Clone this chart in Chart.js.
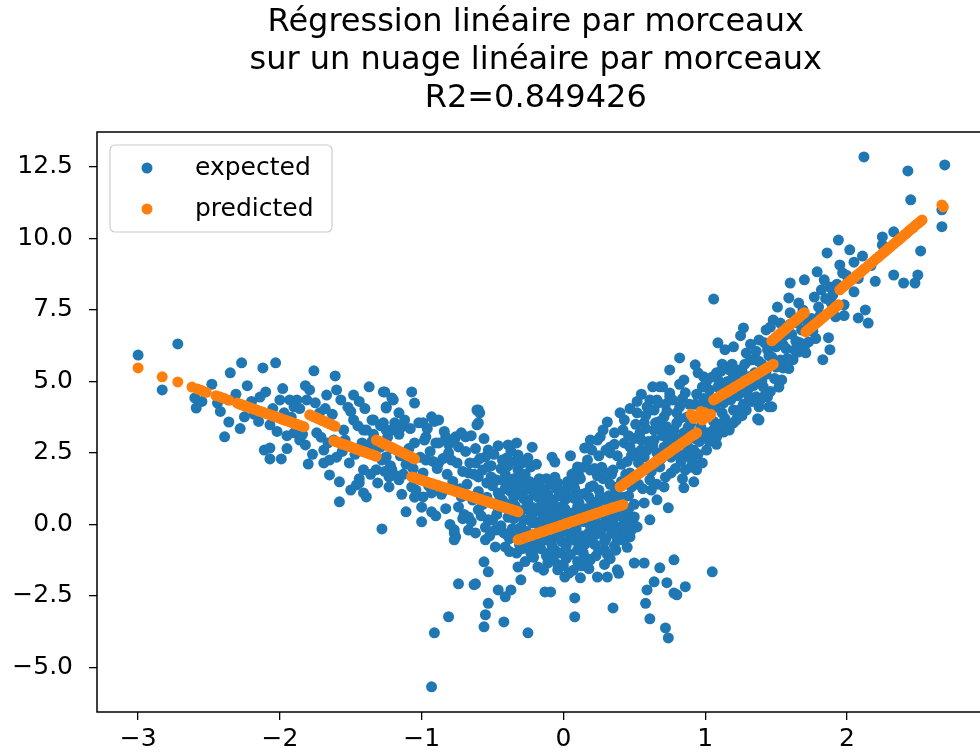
<!DOCTYPE html>
<html>
<head>
<meta charset="utf-8">
<script src="https://cdn.jsdelivr.net/npm/chart.js@4.4.1/dist/chart.umd.min.js"></script>
<style>
  html, body { margin: 0; padding: 0; background: #fff; overflow: hidden; }
  canvas { display: block; }
</style>
</head>
<body>
<canvas id="chart" width="980" height="754"></canvas>
<script>
// titre et légende
const titleLines = ["Régression linéaire par morceaux", "sur un nuage linéaire par morceaux", "R2=0.849426"];
const seriesNames = ["expected", "predicted"];
const xTicks = [-3, -2, -1, 0, 1, 2];
const yTicks = [-5, -2.5, 0, 2.5, 5, 7.5, 10, 12.5];

const expectedPoints = [
  [-3.00,5.92],[-2.72,6.31],[-2.83,4.70],[-2.60,4.42],[-2.59,4.07],[-2.44,4.24],[-2.36,3.58],[-2.39,3.06],
  [-2.35,5.30],[-2.27,5.65],[-2.25,3.76],[-2.12,5.47],[-2.03,5.65],[-2.10,4.63],[-2.07,3.48],[-2.11,2.60],
  [-2.07,2.67],[-2.07,2.29],[-1.99,2.29],[-2.00,4.35],[-1.93,4.35],[-1.88,4.35],[-1.90,4.11],[-1.97,3.90],
  [-1.76,5.37],[-1.61,5.19],[-1.79,4.70],[-1.81,4.35],[-1.67,4.52],[-1.60,4.70],[-1.48,4.52],[-1.37,4.81],
  [-1.27,4.63],[-1.90,3.20],[-1.86,2.95],[-1.82,2.78],[-1.80,2.11],[-1.69,2.60],[-1.69,2.15],[-1.65,1.73],
  [-1.58,1.49],[-1.58,0.79],[-1.46,1.38],[-1.41,1.10],[-1.65,2.25],[-1.74,3.20],[-1.48,3.65],[-1.41,3.30],
  [-1.34,3.65],[-1.25,3.30],[-1.51,2.15],[-1.41,1.91],[-1.32,1.91],[-1.25,2.36],[-1.23,1.66],[-1.25,4.11],
  [-1.20,4.35],[-1.23,1.31],[-2.20,4.30],[-2.15,3.60],[-1.95,3.10],[-1.72,3.90],[-1.55,3.30],[-1.52,4.10],
  [-1.44,4.30],[-1.62,2.95],[-1.56,2.55],[-1.35,2.90],[-1.29,2.70],[-1.44,1.60],[-1.50,1.20],
  [-2.55,4.30],[-2.48,4.90],[-2.42,3.95],[-2.31,4.55],[-2.28,3.35],[-2.23,4.85],[-2.18,3.85],[-2.14,4.45],
  [-2.05,4.05],[-2.02,3.25],[-1.98,4.75],[-1.95,2.65],[-1.92,3.75],[-1.86,4.05],[-1.84,3.15],[-1.82,4.85],
  [-1.77,2.45],[-1.75,4.25],[-1.71,3.05],[-1.68,4.05],[-1.66,2.85],[-1.63,3.85],[-1.60,2.35],[-1.57,4.35],
  [-1.54,2.95],[-1.50,3.95],[-1.47,2.45],[-1.45,3.45],[-1.42,2.85],[-1.40,4.05],
  [-1.26,4.63],[-1.21,4.42],[-1.25,4.07],[-1.16,3.90],[-1.07,4.63],[-1.05,4.24],[-1.35,3.65],[-1.27,3.55],
  [-1.21,3.30],[-1.14,3.41],[-1.39,3.30],[-0.99,3.55],[-0.93,3.76],[-0.88,3.65],[-0.97,3.06],[-0.90,2.85],
  [-0.83,3.06],[-0.76,3.06],[-0.69,3.06],[-0.74,2.71],[-0.81,2.50],[-0.88,2.15],[-0.97,2.25],[-0.61,4.00],
  [-0.59,3.90],[-0.61,3.48],[-0.55,2.36],[-0.53,2.01],[-0.62,2.15],[-0.67,1.80],[-0.60,1.66],[-0.51,1.66],
  [-0.39,2.78],[-0.33,2.85],[-0.40,2.32],[-0.32,2.43],[-0.25,2.32],[-0.23,2.01],[-0.32,1.91],[-0.06,2.18],
  [-0.41,1.45],[-0.34,1.31],[-0.46,1.10],[-0.27,1.21],[-0.18,1.21],[-0.04,1.45],[0.03,1.31],[-0.13,0.86],
  [0.01,0.86],[-1.21,1.91],[-1.16,1.56],[-1.07,1.31],[-0.99,0.96],[-0.93,1.10],[-1.11,0.44],[-1.00,0.09],
  [-0.93,0.44],[-1.28,-0.16],[-0.79,1.31],[-0.72,0.96],[-0.74,0.61],[-0.77,-0.19],[-0.76,-0.44],[-0.67,0.26],
  [-0.60,0.51],[-0.53,0.16],[-0.55,-0.54],[-0.46,-0.19],[-0.13,0.26],[-0.04,-0.19],[0.05,-0.44],[-1.39,0.96],
  [-1.44,1.45],[-0.60,3.55],
  [-1.38,2.75],[-1.36,1.75],[-1.34,3.15],[-1.33,2.55],[-1.31,1.45],[-1.29,3.45],[-1.28,2.25],[-1.26,1.85],
  [-1.24,3.05],[-1.22,2.05],[-1.21,2.65],[-1.19,3.55],[-1.18,1.70],[-1.16,3.15],[-1.15,2.40],[-1.13,1.75],
  [-1.12,3.65],[-1.11,2.10],[-1.09,2.65],[-1.08,3.35],[-1.06,1.95],[-1.05,2.85],[-1.04,1.20],[-1.02,3.55],
  [-1.01,2.35],[-0.99,1.80],[-0.98,2.95],[-0.96,3.35],[-0.95,1.35],[-0.94,2.55],[-0.92,2.20],[-0.91,3.60],
  [-0.89,1.95],[-0.88,2.85],[-0.86,1.05],[-0.85,2.30],[-0.84,3.25],[-0.82,1.75],[-0.81,2.80],[-0.79,2.25],
  [-0.78,1.50],[-0.77,2.95],[-0.75,2.15],[-0.73,1.25],[-0.72,3.20],[-0.71,1.85],[-0.69,2.55],[-0.68,1.40],
  [-0.66,2.15],[-0.65,3.10],[-0.63,1.75],[-0.62,2.65],[-0.60,1.15],[-0.59,2.30],[-0.57,1.90],[-0.56,3.00],
  [-0.54,1.45],[-0.53,2.60],[-0.51,2.05],[-0.50,1.35],[-0.49,2.45],[-0.47,1.55],[-0.46,2.75],[-0.44,1.95],
  [-0.43,2.25],[-0.41,1.75],[-0.39,2.05],[-0.38,1.20],[-0.37,2.55],[-0.35,1.60],[-0.34,2.20],[-0.31,1.60],
  [-0.29,2.15],[-0.27,1.75],[-0.24,1.50],[-0.22,2.70],[-0.21,1.10],[-0.19,2.10],[-0.17,1.35],[-0.12,1.60],
  [-0.08,2.35],[-1.00,0.60],[-0.90,0.30],[-0.83,0.55],[-0.80,0.00],[-0.71,0.20],[-0.67,-0.20],[-1.05,0.95],
  [-1.14,1.05],[-0.64,0.85],[-0.54,0.95],
  [-0.48,-0.79],[-0.41,-0.79],[-0.56,-1.31],[-0.53,-1.66],[-0.74,-2.08],[-0.62,-2.08],[-0.81,-3.23],[-0.91,-3.79],
  [-0.93,-5.68],[-0.56,-3.58],[-0.55,-3.16],[-0.53,-2.76],[-0.42,-3.41],[-0.46,-2.29],[-0.41,-2.53],[-0.37,-2.29],
  [-0.25,-3.79],[-0.30,-1.94],[-0.13,-2.36],[-0.09,-2.36],[0.08,-2.57],[0.08,-3.23],[0.12,-1.87],[0.24,-1.84],
  [0.31,-1.84],[0.35,-2.92],[0.38,-1.59],[0.50,-1.35],[0.57,-1.35],[0.68,-1.52],[0.78,-1.24],[0.64,-2.01],
  [0.58,-2.76],[0.61,-3.30],[0.73,-2.04],[0.78,-2.40],[0.72,-3.62],[0.74,-3.97],[0.74,0.58],[-0.23,-1.00],
  [-0.32,-1.49],[-0.18,-1.49],[-0.04,-1.59],[0.01,-1.84],[0.10,-0.89],[0.19,-1.24],[0.29,-0.89],[0.38,-0.54],
  [0.47,-0.44],[0.43,0.16],[0.52,-0.09],[0.61,0.16],[0.31,3.58],[0.15,2.67],[0.19,2.95],[0.26,3.06],
  [0.33,2.71],[0.43,3.65],[0.52,3.90],[0.61,4.35],[0.68,4.81],[0.75,4.59],[-0.60,4.00],[-0.77,-0.30],
  [-0.77,-0.54],[-0.63,-2.11],[1.05,-1.66],[0.59,-2.29],[0.80,-2.46],[0.86,-2.18],[0.39,-1.71],
  [-0.45,1.00],[-0.40,0.70],[-0.35,0.20],[-0.30,-0.10],[-0.28,0.90],[-0.25,1.30],[-0.22,0.60],[-0.20,0.10],
  [-0.18,-0.70],[-0.15,0.40],[-0.12,-1.10],[-0.10,0.70],[-0.08,-0.40],[-0.06,-0.90],[-0.05,0.50],[-0.03,1.00],
  [-0.01,-0.60],[0.02,-1.20],[0.04,0.30],[0.06,-0.30],[0.08,0.90],[0.10,-0.60],[0.12,0.50],[0.14,-1.00],
  [0.16,1.10],[0.18,-0.30],[0.20,0.80],[0.22,-0.70],[0.25,1.20],[0.27,0.00],[0.30,-0.50],[0.32,1.00],
  [0.35,0.40],[0.37,-0.90],[-0.42,-0.30],[-0.38,-0.50],[-0.33,-1.00],[-0.27,-1.30],[-0.23,0.30],[-0.17,1.60],
  [-0.14,-0.10],[-0.09,1.40],[-0.04,-1.40],[0.00,0.20],[0.03,1.50],[0.07,-1.60],[0.11,1.70],[0.15,-0.40],
  [0.19,1.90],[0.23,-1.10],[0.28,1.60],[0.33,-1.20],[0.38,0.90],[0.40,-0.10],[-0.48,-0.20],[-0.36,1.50],
  [-0.31,-0.70],[-0.21,-0.90],[-0.11,0.00],[-0.02,0.60],[0.09,0.20],[0.13,-0.80],[0.21,0.60],[0.26,-0.30],
  [0.31,0.20],[0.36,1.30],[0.44,0.40],[0.46,1.00],[0.48,-0.20],[0.50,0.70],[0.45,-0.80],[0.41,1.50],
  [-0.47,0.35],[-0.44,-0.05],[-0.43,0.85],[-0.40,-0.35],[-0.39,0.25],[-0.37,1.15],[-0.36,-0.15],[-0.34,0.65],
  [-0.33,-0.45],[-0.31,0.35],[-0.30,1.05],[-0.29,-0.85],[-0.28,0.15],[-0.27,0.55],[-0.26,-0.25],[-0.25,0.85],
  [-0.24,-0.65],[-0.23,1.45],[-0.22,0.05],[-0.21,-1.15],[-0.20,0.45],[-0.19,-0.45],[-0.18,0.95],[-0.17,-0.05],
  [-0.16,0.65],[-0.16,-0.85],[-0.15,1.25],[-0.14,0.25],[-0.13,-0.55],[-0.12,0.55],[-0.11,-1.35],[-0.11,1.05],
  [-0.10,-0.25],[-0.09,0.35],[-0.08,-0.75],[-0.07,0.85],[-0.07,-1.15],[-0.06,0.15],[-0.05,1.25],[-0.04,-0.45],
  [-0.03,0.45],[-0.02,-1.00],[-0.01,1.15],[0.00,-0.25],[0.01,0.55],[0.02,-0.75],[0.03,0.05],[0.04,0.95],
  [0.05,-1.05],[0.06,0.40],[0.07,-0.55],[0.08,1.25],[0.09,-0.15],[0.10,-1.30],[0.11,0.75],[0.12,-0.40],
  [0.13,1.05],[0.14,0.10],[0.15,-0.70],[0.16,0.55],[0.17,-1.20],[0.18,0.95],[0.19,-0.05],[0.20,-0.60],
  [0.21,1.35],[0.22,0.15],[0.23,-0.35],[0.24,0.70],[0.25,-0.90],[0.26,1.00],[0.27,-0.15],[0.28,0.35],
  [0.29,-0.60],[0.30,0.85],[0.31,-1.05],[0.32,0.50],[0.33,1.40],[0.34,-0.30],[0.35,0.10],[0.36,-0.75],
  [0.37,0.75],[0.38,1.20],[0.39,-0.35],[0.40,0.30],[0.42,-0.55],[0.43,0.95],[0.44,-0.15],[0.46,0.55],
  [0.48,1.30],[0.49,0.10],[-0.46,0.55],[-0.41,1.25],[-0.38,-0.95],[-0.35,0.95],[-0.32,-0.25],[-0.28,1.35],
  [-0.26,-0.60],[-0.19,1.40],[-0.14,-1.60],[-0.09,-0.95],[-0.06,1.65],[0.00,-1.45],[0.04,-1.70],[0.09,1.55],
  [0.13,-1.45],[0.18,-1.55],[0.24,1.70],[0.29,-1.40],[0.34,1.75],[-0.52,-0.40],[-0.50,0.15],[-0.55,-0.10],
  [-0.58,0.30],[-0.62,-0.30],[-0.65,0.10],[-0.57,0.70],[-0.70,0.35],
  [2.12,12.85],[2.43,12.36],[2.69,12.57],[2.45,11.35],[2.67,11.00],[2.67,10.41],[2.52,9.56],[2.50,8.72],
  [2.48,8.44],[2.40,8.44],[2.33,8.72],[2.33,10.23],[2.25,10.05],[2.25,9.77],[2.11,9.38],[2.05,9.17],
  [1.95,9.07],[1.97,8.79],[1.94,9.94],[1.86,9.49],[1.79,8.83],[1.84,8.55],[1.70,8.55],[1.60,8.44],
  [1.90,8.02],[2.05,8.13],[2.13,7.50],[2.08,7.22],[2.15,7.04],[1.98,7.68],[1.92,7.26],[1.87,6.53],
  [1.88,6.11],[1.83,5.76],[1.73,6.80],[1.73,6.38],[1.66,6.03],[1.62,5.76],[1.55,5.47],[1.59,7.92],
  [1.66,7.74],[1.51,7.60],[1.48,7.15],[1.43,6.80],[1.38,6.45],[1.27,6.87],[1.09,6.35],[1.14,6.11],
  [1.20,6.21],[1.06,7.88],[1.29,5.99],[1.34,5.76],[1.44,6.11],[1.55,6.28],[0.82,5.82],[0.75,5.40],
  [0.93,5.58],[0.63,4.81],[0.70,4.81],[0.85,5.05],[0.99,5.16],[1.08,5.30],[1.17,5.40],[1.24,5.40],
  [1.31,5.16],[1.41,4.81],[1.44,4.46],[1.38,4.11],[1.47,4.11],[1.37,3.69],[1.24,4.00],[1.20,3.55],
  [1.13,3.23],[1.06,3.20],[1.01,2.60],[0.59,4.11],[0.66,4.35],[0.75,4.46],[0.82,4.11],[0.71,3.76],
  [0.80,3.55],[0.64,3.30],[0.57,3.55],[0.87,2.50],[0.75,2.60],[0.92,3.20],[1.13,4.70],[1.22,4.70],
  [1.03,4.70],[1.50,6.21],[1.53,7.04],
  [0.10,2.01],[0.24,2.95],[0.33,2.50],[0.43,2.85],[0.54,3.20],[0.52,2.50],[0.64,2.95],[0.73,3.41],
  [0.78,2.85],[0.85,2.36],[0.89,2.50],[0.94,1.91],[0.92,1.49],[0.85,1.28],[1.06,3.30],[1.13,3.40],
  [1.22,3.65],[1.29,4.00],[1.38,3.65],[1.45,4.11],[1.36,4.46],[0.66,0.86],[0.57,0.75],[0.50,0.26],
  [0.43,-0.30],[0.33,-0.09],[0.24,-0.19],[0.19,0.40],[0.10,0.61],[-0.04,0.26],[0.19,1.31],[0.31,1.80],
  [0.47,1.80],[0.57,2.36],[0.61,1.56],[0.68,2.01],[0.71,1.31],
  [0.45,2.20],[0.50,3.00],[0.55,2.60],[0.58,3.80],[0.62,1.20],[0.66,2.50],[0.70,3.10],[0.72,4.20],
  [0.76,1.80],[0.80,3.90],[0.83,2.20],[0.86,4.60],[0.88,3.40],[0.90,2.00],[0.93,4.20],[0.96,2.90],
  [0.98,4.80],[1.02,3.20],[1.04,4.40],[1.08,2.80],[1.10,5.00],[1.12,3.90],[1.15,4.40],[1.18,3.50],
  [1.20,5.20],[1.23,4.50],[1.26,3.80],[1.28,5.60],[1.30,4.70],[1.33,4.30],[1.35,5.30],[1.40,5.00],
  [1.42,4.50],[1.45,5.90],[1.50,5.50],[1.52,4.80],[1.56,6.60],[1.58,5.80],[1.60,7.00],[1.64,6.40],
  [1.68,6.80],[1.70,6.20],[1.75,7.20],[1.78,6.50],[1.80,7.60],[1.85,7.90],[1.88,8.30],[1.60,7.40],
  [0.35,1.90],[0.38,2.40],[0.42,3.30],[0.47,2.70],[0.53,1.40],[0.60,2.90],[0.64,4.00],[0.68,3.60],
  [0.74,2.90],[0.78,3.30],[0.82,4.90],[0.84,1.60],[0.92,2.60],[0.95,5.30],[1.00,4.20],[1.06,3.60],
  [1.12,5.60],[1.16,5.00],[1.25,6.60],[1.32,6.30],[1.38,5.70],[1.46,6.90],[0.25,2.40],[0.28,3.30],
  [0.20,2.60],[0.14,2.00],[0.08,1.80],[0.05,2.40],
  [0.44,1.75],[0.46,3.10],[0.48,2.40],[0.50,1.55],[0.51,3.50],[0.53,2.15],[0.55,2.95],[0.56,1.25],
  [0.58,3.35],[0.59,2.60],[0.61,4.00],[0.62,1.85],[0.63,2.75],[0.65,3.55],[0.66,1.40],[0.67,4.25],
  [0.69,2.30],[0.70,3.30],[0.71,2.70],[0.72,1.65],[0.73,3.95],[0.75,3.15],[0.76,2.35],[0.77,4.35],
  [0.79,1.95],[0.80,3.00],[0.81,2.45],[0.82,3.70],[0.84,4.40],[0.85,3.20],[0.86,1.90],[0.87,3.75],
  [0.88,2.70],[0.89,4.20],[0.90,3.55],[0.91,2.20],[0.93,3.00],[0.94,4.55],[0.95,2.45],[0.97,3.40],
  [0.98,2.15],[0.99,4.40],[1.00,3.10],[1.01,5.00],[1.03,2.90],[1.04,3.95],[1.05,5.15],[1.07,4.10],
  [1.08,3.05],[1.09,4.80],[1.10,3.50],[1.11,5.35],[1.13,4.25],[1.14,3.70],[1.15,4.95],[1.17,3.30],
  [1.18,4.35],[1.19,5.60],[1.20,4.00],[1.22,5.05],[1.23,3.85],[1.25,4.60],[1.26,5.35],[1.27,4.20],
  [1.29,4.90],[1.31,4.45],[1.32,5.75],[1.34,4.85],[1.36,6.05],[1.37,5.05],[1.39,4.35],[1.40,5.60],
  [1.42,6.35],[1.43,5.25],[1.46,4.65],[1.47,5.85],[1.49,5.10],[1.51,6.50],[1.53,5.75],[1.54,5.05],
  [1.57,6.15],[1.59,5.45],[1.61,6.65],[1.63,6.10],[1.65,7.05],[1.67,6.35],[1.69,7.50],[1.71,6.00],
  [1.72,7.10],[1.76,6.75],[1.77,7.95],[1.81,7.30],[1.82,8.20],[1.89,7.75],[1.93,8.40],[2.00,8.70],
  [2.02,9.60],[2.08,8.60],[2.17,9.05],[2.20,8.50],[1.98,7.30],[0.52,4.30],[0.55,4.55],[0.47,4.05],
  [0.40,3.90],[0.36,3.20],[0.30,2.60],[0.27,2.00],[0.22,1.95],[0.17,2.25],[0.12,1.60],[0.06,1.75],
  [0.36,2.80],[0.41,2.10]
];

// régression par morceaux
const predictedPoints = [
  [-3.00,5.47],[-2.83,5.16],[-2.72,4.98],
  [-2.62,4.80],[-2.58,4.73],[-2.55,4.68],[-2.52,4.62],[-2.45,4.50],[-2.42,4.45],[-2.39,4.40],[-2.36,4.34],
  [-2.30,4.24],[-2.27,4.18],[-2.24,4.13],[-2.19,4.04],[-2.16,3.99],[-2.13,3.94],[-2.10,3.88],[-2.07,3.83],
  [-2.04,3.78],[-2.01,3.73],[-1.98,3.67],[-1.95,3.62],[-1.92,3.57],[-1.89,3.51],[-1.86,3.46],[-1.83,3.41],
  [-2.285,4.21],[-2.255,4.16],[-2.23,4.11],[-2.21,4.08],[-2.175,4.02],[-2.145,3.96],[-2.115,3.91],[-2.085,3.86],
  [-2.055,3.81],[-2.025,3.76],[-1.995,3.70],[-1.965,3.65],[-1.935,3.60],[-1.905,3.54],[-1.875,3.49],[-1.845,3.44],
  [-1.79,3.83],[-1.76,3.76],[-1.73,3.70],[-1.70,3.63],[-1.67,3.56],[-1.64,3.50],[-1.61,3.43],
  [-1.775,3.80],[-1.745,3.73],[-1.715,3.66],[-1.685,3.60],[-1.655,3.53],[-1.625,3.46],
  [-1.62,2.92],[-1.59,2.87],[-1.56,2.81],[-1.53,2.76],[-1.50,2.71],[-1.47,2.65],[-1.44,2.60],[-1.41,2.54],
  [-1.38,2.49],[-1.35,2.44],[-1.32,2.38],
  [-1.605,2.90],[-1.575,2.84],[-1.545,2.79],[-1.515,2.74],[-1.485,2.68],[-1.455,2.62],[-1.425,2.57],[-1.395,2.52],
  [-1.365,2.46],[-1.335,2.41],
  [-1.32,2.95],[-1.29,2.88],[-1.26,2.80],[-1.23,2.73],[-1.20,2.66],[-1.17,2.58],[-1.14,2.51],[-1.11,2.44],
  [-1.08,2.37],[-1.05,2.29],
  [-1.305,2.92],[-1.275,2.84],[-1.245,2.77],[-1.215,2.70],[-1.185,2.62],[-1.155,2.55],[-1.125,2.48],[-1.095,2.40],
  [-1.065,2.33],
  [-1.07,1.66],[-1.04,1.61],[-1.01,1.56],[-0.98,1.51],[-0.95,1.46],[-0.92,1.41],[-0.89,1.37],[-0.86,1.32],
  [-0.83,1.27],[-0.80,1.22],[-0.77,1.17],[-0.74,1.12],[-0.71,1.07],[-0.68,1.02],[-0.65,0.98],[-0.62,0.93],
  [-0.59,0.88],[-0.56,0.83],[-0.53,0.78],[-0.50,0.73],[-0.47,0.68],[-0.44,0.63],[-0.41,0.59],[-0.38,0.54],
  [-0.35,0.49],[-0.32,0.44],
  [-1.055,1.64],[-1.025,1.59],[-0.995,1.54],[-0.965,1.49],[-0.935,1.44],[-0.905,1.39],[-0.875,1.34],[-0.845,1.29],
  [-0.815,1.25],[-0.785,1.20],[-0.755,1.15],[-0.725,1.10],[-0.695,1.05],[-0.665,1.00],[-0.635,0.95],[-0.605,0.90],
  [-0.575,0.86],[-0.545,0.81],[-0.515,0.76],[-0.485,0.71],[-0.455,0.66],[-0.425,0.61],[-0.395,0.56],[-0.365,0.52],
  [-0.335,0.47],
  [-0.32,-0.54],[-0.29,-0.49],[-0.26,-0.44],[-0.23,-0.39],[-0.20,-0.34],[-0.17,-0.29],[-0.14,-0.24],[-0.11,-0.19],
  [-0.08,-0.14],[-0.05,-0.09],[-0.02,-0.04],[0.01,0.01],[0.04,0.06],[0.07,0.11],[0.10,0.16],[0.13,0.21],
  [0.16,0.26],[0.19,0.31],[0.22,0.36],[0.25,0.41],[0.28,0.46],[0.31,0.51],[0.34,0.56],[0.37,0.61],
  [0.40,0.65],[0.42,0.69],
  [-0.305,-0.52],[-0.275,-0.47],[-0.245,-0.42],[-0.215,-0.37],[-0.185,-0.32],[-0.155,-0.27],[-0.125,-0.22],[-0.095,-0.17],
  [-0.065,-0.12],[-0.035,-0.07],[-0.005,-0.02],[0.025,0.04],[0.055,0.09],[0.085,0.14],[0.115,0.19],[0.145,0.24],
  [0.175,0.29],[0.205,0.34],[0.235,0.39],[0.265,0.44],[0.295,0.49],[0.325,0.54],[0.355,0.59],[0.385,0.63],
  [0.41,0.67],
  [0.40,1.31],[0.43,1.42],[0.46,1.52],[0.49,1.63],[0.52,1.73],[0.55,1.84],[0.58,1.94],[0.61,2.05],
  [0.64,2.15],[0.67,2.26],[0.70,2.36],[0.73,2.47],[0.76,2.57],[0.79,2.68],[0.82,2.78],[0.85,2.89],
  [0.88,2.99],[0.91,3.10],[0.94,3.20],
  [0.415,1.36],[0.445,1.47],[0.475,1.57],[0.505,1.68],[0.535,1.78],[0.565,1.89],[0.595,2.00],[0.625,2.10],
  [0.655,2.21],[0.685,2.31],[0.715,2.42],[0.745,2.52],[0.775,2.63],[0.805,2.73],[0.835,2.84],[0.865,2.94],
  [0.895,3.05],[0.925,3.15],
  [0.90,3.85],[0.92,3.70],[0.95,3.80],[0.98,3.65],[1.00,3.90],[1.02,3.75],[1.04,3.85],[0.97,3.95],
  [1.06,4.35],[1.09,4.44],[1.12,4.53],[1.15,4.62],[1.18,4.71],[1.21,4.80],[1.24,4.89],[1.27,4.98],
  [1.30,5.07],[1.33,5.16],[1.36,5.24],[1.39,5.33],[1.42,5.42],[1.45,5.51],[1.48,5.60],
  [1.075,4.40],[1.105,4.49],[1.135,4.58],[1.165,4.66],[1.195,4.75],[1.225,4.84],[1.255,4.93],[1.285,5.02],
  [1.315,5.11],[1.345,5.20],[1.375,5.29],[1.405,5.38],[1.435,5.47],[1.465,5.55],
  [1.47,6.42],[1.50,6.55],[1.53,6.68],[1.56,6.80],[1.59,6.93],[1.62,7.06],[1.65,7.19],[1.68,7.32],[1.70,7.40],
  [1.485,6.48],[1.515,6.61],[1.545,6.74],[1.575,6.87],[1.605,7.00],[1.635,7.12],[1.665,7.25],[1.69,7.36],
  [1.71,6.73],[1.74,6.86],[1.77,6.98],[1.80,7.10],[1.83,7.23],[1.86,7.35],[1.89,7.47],[1.92,7.60],[1.94,7.68],
  [1.725,6.80],[1.755,6.92],[1.785,7.04],[1.815,7.17],[1.845,7.29],[1.875,7.41],[1.905,7.53],[1.93,7.64],
  [1.95,8.20],[1.98,8.33],[2.01,8.45],[2.04,8.58],[2.07,8.71],[2.10,8.83],[2.13,8.96],[2.17,9.13],
  [2.21,9.30],[2.25,9.47],[2.28,9.59],[2.31,9.72],[2.35,9.89],[2.38,10.01],[2.41,10.14],[2.44,10.27],
  [2.47,10.39],[2.50,10.52],[2.53,10.64],
  [1.965,8.27],[1.995,8.39],[2.025,8.52],[2.055,8.64],[2.085,8.77],[2.115,8.90],[2.15,9.04],[2.19,9.21],
  [2.23,9.38],[2.265,9.53],[2.295,9.66],[2.33,9.80],[2.365,9.95],[2.395,10.08],[2.425,10.20],[2.455,10.33],
  [2.485,10.46],[2.515,10.58],
  [2.67,11.17],[2.68,11.10]
];

const colors = ["#1f77b4", "#ff7f0e"];
const dotRadius = 5.5;

const fmtX = v => (v < 0 ? "\u2212" + Math.abs(v) : String(v));
const fmtY = v => (v < 0 ? "\u2212" + Math.abs(v).toFixed(1) : v.toFixed(1));

// cadre de l'axe (haut, gauche, bas) par-dessus les points
const spines = {
  id: "spines",
  afterDatasetsDraw(chart) {
    const { ctx, chartArea: a } = chart;
    ctx.save();
    ctx.strokeStyle = "#000";
    ctx.lineWidth = 1.5;
    ctx.beginPath();
    ctx.moveTo(chart.width, a.top);
    ctx.lineTo(a.left, a.top);
    ctx.lineTo(a.left, a.bottom);
    ctx.lineTo(chart.width, a.bottom);
    ctx.stroke();
    ctx.restore();
  }
};

// légende dans le coin haut gauche, façon matplotlib
const innerLegend = {
  id: "innerLegend",
  afterDraw(chart) {
    const { ctx, chartArea: a } = chart;
    const x = a.left + 13, y = a.top + 13, w = 222, h = 87, r = 5;
    ctx.save();
    ctx.beginPath();
    ctx.roundRect(x, y, w, h, r);
    ctx.fillStyle = "rgba(255,255,255,0.8)";
    ctx.fill();
    ctx.strokeStyle = "#cccccc";
    ctx.lineWidth = 1.2;
    ctx.stroke();
    ctx.font = "25px 'DejaVu Sans'";
    ctx.textBaseline = "middle";
    seriesNames.forEach((name, i) => {
      const cy = y + 23 + i * 41;
      ctx.beginPath();
      ctx.arc(x + 37, cy, dotRadius, 0, Math.PI * 2);
      ctx.fillStyle = colors[i];
      ctx.fill();
      ctx.fillStyle = "#000";
      ctx.fillText(name, x + 85, cy);
    });
    ctx.restore();
  }
};

const tickFont = { family: "DejaVu Sans", size: 25 };

const config = {
  type: "scatter",
  data: {
    datasets: [
      {
        label: seriesNames[0],
        data: expectedPoints.map(([x, y]) => ({ x, y })),
        backgroundColor: colors[0],
        borderColor: colors[0],
        borderWidth: 0,
        pointRadius: dotRadius,
        pointHoverRadius: dotRadius,
        order: 2
      },
      {
        label: seriesNames[1],
        data: predictedPoints.map(([x, y]) => ({ x, y })),
        backgroundColor: colors[1],
        borderColor: colors[1],
        borderWidth: 0,
        pointRadius: dotRadius,
        pointHoverRadius: dotRadius,
        order: 1
      }
    ]
  },
  options: {
    responsive: false,
    animation: false,
    devicePixelRatio: 1,
    layout: { padding: { left: 0, right: 0, top: 0, bottom: 0 } },
    plugins: {
      legend: { display: false },
      tooltip: { enabled: false },
      title: {
        display: true,
        fullSize: false,
        text: titleLines,
        color: "#000",
        font: { family: "DejaVu Sans", size: 32, weight: "normal", lineHeight: 1.2 },
        padding: { top: 3, bottom: 13.8 }
      }
    },
    scales: {
      x: {
        type: "linear",
        min: -3.29,
        max: 2.9,
        afterBuildTicks: s => { s.ticks = xTicks.map(v => ({ value: v })); },
        afterFit: s => { s.height = 42; },
        border: { display: false },
        grid: { drawOnChartArea: false, drawTicks: true, tickLength: 8, color: "#000", lineWidth: 1.3 },
        ticks: { font: tickFont, color: "#000", padding: 4, maxRotation: 0, callback: v => fmtX(v) }
      },
      y: {
        type: "linear",
        min: -6.56,
        max: 13.72,
        afterBuildTicks: s => { s.ticks = yTicks.map(v => ({ value: v })); },
        afterFit: s => { s.width = 97; },
        border: { display: false },
        grid: { drawOnChartArea: false, drawTicks: true, tickLength: 8, color: "#000", lineWidth: 1.3 },
        ticks: { font: tickFont, color: "#000", padding: 16, callback: v => fmtY(v) }
      }
    }
  },
  plugins: [spines, innerLegend]
};

const canvas = document.getElementById("chart");
new Chart(canvas.getContext("2d"), config);
</script>
</body>
</html>
